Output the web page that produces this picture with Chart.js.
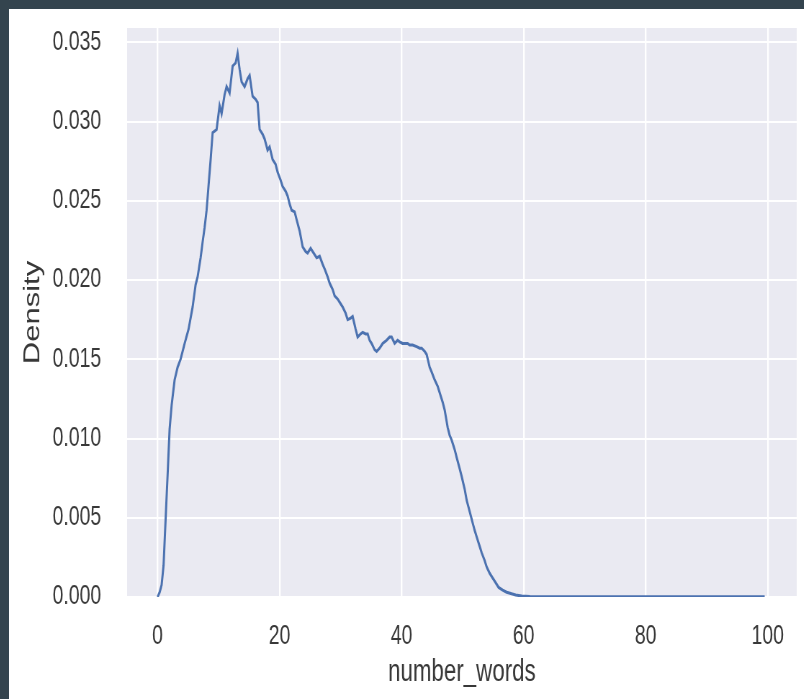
<!DOCTYPE html>
<html><head><meta charset="utf-8">
<script src="https://cdn.jsdelivr.net/npm/chart.js@4.4.1/dist/chart.umd.min.js"></script>
<style>
html,body{margin:0;padding:0;width:804px;height:699px;overflow:hidden;background:#34444e;}
#wrap{position:absolute;left:9px;top:9px;width:795px;height:690px;background:#fff;overflow:hidden;}
#c{display:block;transform:scaleX(0.72);transform-origin:0 0;}
</style></head><body>
<div id="wrap"><canvas id="c" width="1104" height="690"></canvas></div>
<script>
const wordCounts = [0,0.33,0.66,0.98,1.31,1.64,1.97,2.3,2.79,3.28,3.77,4.43,5.08,5.74,6.23,6.56,7.05,7.38,7.7,8.03,8.36,8.69,9.02,9.67,10.16,10.49,10.98,11.31,11.8,12.3,12.79,13.11,13.44,13.77,14.26,14.75,15.08,15.57,16.07,16.39,16.72,17.21,17.54,18.03,18.36,18.85,19.34,19.67,20.16,20.49,20.98,21.31,21.64,21.97,22.46,22.79,23.28,23.77,24.26,24.59,25.08,25.41,26.07,26.56,27.05,27.38,27.87,28.2,28.69,29.02,29.51,29.84,30.33,30.82,31.15,31.64,31.97,32.46,32.79,33.28,33.61,34.1,34.43,34.75,35.08,35.57,35.9,36.39,36.89,37.54,38.03,38.36,38.85,39.34,39.67,40.16,40.49,40.98,41.31,41.8,42.46,42.95,43.28,43.77,44.1,44.59,44.92,45.41,45.9,46.23,46.72,47.05,47.54,47.87,48.2,48.69,49.02,49.51,49.84,50.33,50.66,51.15,51.48,51.97,52.3,52.79,53.11,53.61,53.93,54.43,54.92,55.57,55.9,56.56,57.21,58.03,58.69,59.67,61,63,66,70,75,80,85,90,95,99.5];
const densities = [0,0.0003,0.00076,0.002,0.0049,0.0077,0.0106,0.0121,0.0137,0.0145,0.015,0.016,0.0169,0.0183,0.0197,0.0202,0.0214,0.0224,0.0233,0.0244,0.026,0.0276,0.0293,0.0295,0.031,0.0305,0.0317,0.0322,0.0318,0.0335,0.0337,0.0343,0.0333,0.0325,0.0322,0.0327,0.0329,0.0316,0.0314,0.0312,0.0295,0.0292,0.0289,0.0282,0.0284,0.0276,0.0273,0.0268,0.0263,0.0259,0.0256,0.0253,0.0248,0.0244,0.0243,0.0238,0.0231,0.0221,0.0218,0.0217,0.022,0.0218,0.0214,0.0215,0.021,0.0207,0.0202,0.0198,0.0194,0.019,0.0188,0.0186,0.0183,0.0179,0.0175,0.0176,0.0177,0.0169,0.0164,0.0166,0.0167,0.0166,0.0166,0.0162,0.016,0.0156,0.0155,0.0157,0.016,0.0162,0.0164,0.0164,0.016,0.0162,0.0161,0.016,0.016,0.016,0.0159,0.0159,0.0158,0.0157,0.0157,0.0155,0.0153,0.0145,0.0142,0.0137,0.0133,0.0129,0.0123,0.0118,0.0107,0.0102,0.0099,0.0093,0.0088,0.0081,0.0076,0.0068,0.0061,0.0054,0.0049,0.0042,0.0038,0.0032,0.0028,0.0023,0.0019,0.0015,0.0012,0.0008,0.0006,0.00044,0.0003,0.0002,0.00013,0.00006,0.00003,0.00002,0.00002,0.00001,0.00001,0.00001,0.00001,0.00001,0.00001,0.00001];
const xTicks = [0,20,40,60,80,100];
const yTicks = [0,0.005,0.01,0.015,0.02,0.025,0.03,0.035];
const xLabel = 'number_words';
const yLabel = 'Density';

const points = wordCounts.map((x, i) => ({x: x, y: densities[i]}));
const FAMILY = "'Liberation Sans', Arial, sans-serif";
const TEXT = '#383838';

const plotBg = {
  id: 'plotBg',
  beforeDraw(chart) {
    const {ctx, chartArea: a} = chart;
    ctx.save();
    ctx.fillStyle = '#eaeaf2';
    ctx.fillRect(a.left, a.top, a.right - a.left, a.bottom - a.top);
    ctx.restore();
  }
};

function zeroPad(s) { s.paddingTop = 0; s.paddingBottom = 0; s.paddingLeft = 0; s.paddingRight = 0; }

new Chart(document.getElementById('c'), {
  type: 'line',
  data: {
    datasets: [{
      data: points,
      borderColor: '#4c72b0',
      borderWidth: 3,
      pointRadius: 0,
      tension: 0,
      fill: false
    }]
  },
  options: {
    responsive: false,
    animation: false,
    layout: {autoPadding: false, padding: {left: 0, top: 19, right: 10, bottom: 0}},
    plugins: {legend: {display: false}, tooltip: {enabled: false}},
    scales: {
      x: {
        type: 'linear',
        min: -5,
        max: 104.75,
        afterBuildTicks: s => { s.ticks = xTicks.map(v => ({value: v})); },
        afterFit: s => { s.height = 102; zeroPad(s); },
        grid: {color: '#ffffff', lineWidth: 2.4, drawTicks: false},
        border: {display: false},
        ticks: {padding: 23, color: TEXT, font: {family: FAMILY, size: 27}, maxRotation: 0, autoSkip: false, callback: v => String(v)},
        title: {display: true, text: xLabel, color: TEXT, font: {family: FAMILY, size: 31}, padding: {top: 0, bottom: 8}}
      },
      y: {
        type: 'linear',
        min: 0,
        max: 0.0359,
        afterBuildTicks: s => { s.ticks = yTicks.map(v => ({value: v})); },
        afterFit: s => { s.width = 164; zeroPad(s); },
        grid: {color: '#ffffff', lineWidth: 2, drawTicks: false},
        border: {display: false},
        ticks: {padding: 36, color: TEXT, font: {family: FAMILY, size: 27}, autoSkip: false, callback: v => v.toFixed(3)},
        title: {display: true, text: yLabel, color: TEXT, font: {family: FAMILY, size: 31}, padding: {top: 15, bottom: 0}}
      }
    }
  },
  plugins: [plotBg]
});
</script>
</body></html>
